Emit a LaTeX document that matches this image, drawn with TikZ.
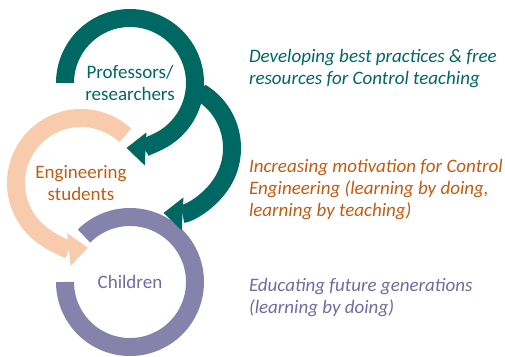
\documentclass[tikz,border=0pt]{standalone}
\usepackage{fontspec}
\setmainfont{Carlito}
\usetikzlibrary{arrows.meta,positioning}

\definecolor{profteal}{RGB}{0,104,98}
\definecolor{studpeach}{RGB}{248,203,173}
\definecolor{studorange}{RGB}{197,90,17}
\definecolor{kidpurple}{RGB}{133,131,172}
\definecolor{kidtext}{RGB}{110,108,160}

\begin{document}
\begin{tikzpicture}[x=1pt,y=1pt,line width=18pt,
                    font=\fontsize{19}{22}\selectfont]
  \tikzstyle{every node}=[align=center, inner sep=0pt, outer sep=0pt]
  \tikzstyle{ring}=[line width=18pt]
  \tikzstyle{head}=[-{Triangle[width=33pt,length=19pt,line width=0pt]}]
  \tikzstyle{goal}=[align=left, anchor=base west,
                    font=\fontsize{19}{22}\selectfont\itshape]

 \useasboundingbox (0,0) rectangle (505,-356);

 \coordinate (prof) at (130,-83);
 \coordinate (link) at (167,-148);
 \coordinate (stud) at (81,-183);
 \coordinate (kids) at (130,-282);

 \draw[ring, kidpurple] (kids) ++(135:65) arc[start angle=135, end angle=-180, radius=65];
 \draw[ring, studpeach, head] (stud) ++(47:65) arc[start angle=47, end angle=276, radius=65];
 \draw[ring, profteal, head] (link) ++(59:65) arc[start angle=59, end angle=-93, radius=65];
 \draw[ring, profteal, head] (prof) ++(180:65) arc[start angle=180, end angle=-93, radius=65];

 \node[text=profteal] (prof_lbl) at (prof) {Professors/\\researchers};
 \node[text=studorange] (stud_lbl) at (stud) {Engineering\\students};
 \node[text=kidtext] (kids_lbl) at (kids) {Children};

 \node[goal, text=profteal] (prof_goal) at (249,-84)
      {Developing best practices \& free\\resources for Control teaching};
 \node[goal, text=studorange] (stud_goal) at (249,-216)
      {Increasing motivation for Control\\Engineering (learning by doing,\\learning by teaching)};
 \node[goal, text=kidtext] (kids_goal) at (249,-313)
      {Educating future generations\\(learning by doing)};

\end{tikzpicture}
\end{document}
